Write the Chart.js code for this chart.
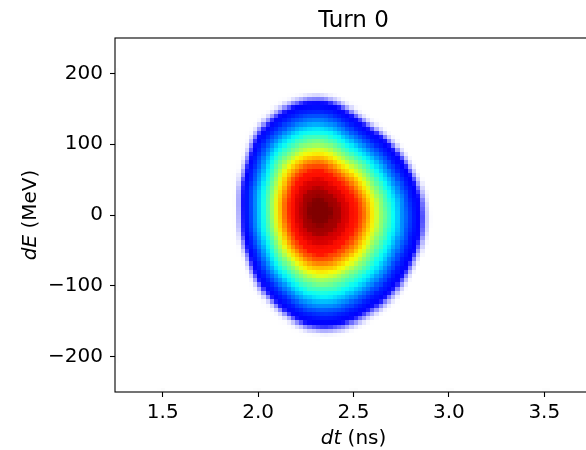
<!DOCTYPE html>
<html>
<head>
<meta charset="utf-8">
<script src="https://cdn.jsdelivr.net/npm/chart.js@4.4.0/dist/chart.umd.min.js"></script>
<style>
  html, body { margin: 0; padding: 0; background: #fff; overflow: hidden; }
  canvas { display: block; }
</style>
</head>
<body>
<canvas id="phaseSpace" width="600" height="450"></canvas>
<script>
const title = 'Turn 0';
const xTicks = [1.5, 2.0, 2.5, 3.0, 3.5];
const yTicks = [-200, -100, 0, 100, 200];
const xRange = [1.25, 3.75];
const yRange = [-250, 250];

// density contours of the bunch, outermost first.
// 12 points each, going anticlockwise from the right-hand side
const ringDt = [
  [2.893, 2.792, 2.590, 2.315, 2.031, 1.910, 1.886, 1.919, 2.043, 2.315, 2.626, 2.825],
  [2.876, 2.778, 2.582, 2.315, 2.040, 1.921, 1.898, 1.930, 2.051, 2.315, 2.617, 2.811],
  [2.860, 2.764, 2.574, 2.315, 2.048, 1.933, 1.910, 1.942, 2.059, 2.315, 2.608, 2.796],
  [2.827, 2.737, 2.559, 2.315, 2.064, 1.956, 1.935, 1.964, 2.074, 2.315, 2.590, 2.767],
  [2.799, 2.715, 2.546, 2.315, 2.077, 1.975, 1.955, 1.983, 2.087, 2.315, 2.575, 2.743],
  [2.772, 2.692, 2.532, 2.315, 2.091, 1.995, 1.976, 2.002, 2.100, 2.315, 2.561, 2.718],
  [2.744, 2.669, 2.519, 2.315, 2.104, 2.014, 1.996, 2.021, 2.113, 2.315, 2.546, 2.694],
  [2.722, 2.651, 2.509, 2.315, 2.115, 2.029, 2.012, 2.036, 2.123, 2.315, 2.534, 2.675],
  [2.695, 2.628, 2.496, 2.315, 2.129, 2.049, 2.033, 2.055, 2.136, 2.315, 2.519, 2.650],
  [2.667, 2.606, 2.483, 2.315, 2.142, 2.068, 2.053, 2.074, 2.149, 2.315, 2.504, 2.626],
  [2.640, 2.583, 2.470, 2.315, 2.156, 2.087, 2.074, 2.093, 2.162, 2.315, 2.490, 2.602],
  [2.618, 2.565, 2.459, 2.315, 2.166, 2.103, 2.090, 2.108, 2.173, 2.315, 2.478, 2.582],
  [2.596, 2.547, 2.449, 2.315, 2.177, 2.118, 2.106, 2.123, 2.183, 2.315, 2.466, 2.563],
  [2.574, 2.528, 2.438, 2.315, 2.188, 2.134, 2.123, 2.138, 2.193, 2.315, 2.454, 2.543],
  [2.552, 2.510, 2.428, 2.315, 2.199, 2.149, 2.139, 2.153, 2.204, 2.315, 2.442, 2.524],
  [2.524, 2.488, 2.415, 2.315, 2.212, 2.168, 2.160, 2.172, 2.217, 2.315, 2.427, 2.500],
  [2.480, 2.451, 2.394, 2.315, 2.234, 2.199, 2.192, 2.202, 2.237, 2.315, 2.404, 2.461],
  [2.436, 2.415, 2.373, 2.315, 2.256, 2.230, 2.225, 2.232, 2.258, 2.315, 2.380, 2.422],
  [2.387, 2.374, 2.349, 2.315, 2.280, 2.265, 2.262, 2.266, 2.281, 2.315, 2.353, 2.378]
];
const ringDE = [
  [5, 79, 133, 171, 137, 68, 5, -56, -122, -168, -140, -74],
  [5, 77, 129, 166, 133, 66, 5, -55, -118, -163, -136, -72],
  [5, 75, 126, 161, 129, 64, 5, -53, -115, -158, -131, -70],
  [5, 70, 118, 152, 122, 61, 5, -49, -107, -148, -123, -65],
  [5, 67, 112, 144, 116, 58, 5, -46, -101, -140, -116, -61],
  [5, 63, 106, 136, 109, 55, 5, -44, -95, -132, -109, -58],
  [5, 60, 100, 128, 103, 52, 5, -41, -89, -124, -103, -54],
  [5, 57, 95, 122, 98, 49, 5, -38, -84, -117, -97, -51],
  [5, 54, 89, 114, 92, 46, 5, -35, -78, -109, -90, -47],
  [5, 50, 83, 106, 85, 43, 5, -32, -72, -100, -83, -43],
  [5, 47, 77, 98, 79, 40, 5, -30, -66, -92, -76, -39],
  [5, 44, 72, 92, 74, 38, 5, -27, -61, -86, -71, -36],
  [5, 41, 67, 85, 69, 36, 5, -25, -57, -79, -65, -33],
  [5, 38, 62, 79, 64, 33, 5, -22, -52, -72, -60, -30],
  [5, 35, 57, 73, 59, 31, 5, -20, -47, -66, -54, -27],
  [5, 32, 51, 65, 53, 28, 5, -17, -41, -58, -47, -24],
  [5, 26, 42, 52, 43, 23, 5, -13, -31, -44, -36, -18],
  [5, 20, 32, 40, 33, 18, 5, -8, -22, -31, -25, -12],
  [5, 14, 21, 26, 21, 13, 5, -3, -11, -16, -13, -5]
];

// jet-like palette, faint edge to dense core
const ringColors = [
  '#dcdcff', '#8c8cff', '#0000ff', '#0018ff', '#004cff', '#008aff', '#00c7ff',
  '#05fffa', '#42ffbd', '#80ff80', '#bdff42', '#faff05', '#ffc700', '#ff8a00',
  '#ff4c00', '#ff0f00', '#d80000', '#a20000', '#800000'
];

// histogram bin size on screen, px
const BIN_PX = 4.2;
const FONT = 'DejaVu Sans';

const datasets = ringDt.map((dts, i) => {
  const pts = dts.map((x, k) => ({ x: x, y: ringDE[i][k] }));
  const n = pts.length;
  // wrap the neighbours round so the spline closes smoothly
  return {
    data: [pts[n - 1], ...pts, pts[0], pts[1]],
    backgroundColor: ringColors[i],
    borderWidth: 0,
    pointRadius: 0,
    fill: 'shape',
    tension: 0.4,
    order: ringDt.length - i
  };
});

// re-sample the plot area into square cells, like a 2d histogram
const binPlugin = {
  id: 'bins',
  afterDatasetsDraw(chart) {
    const { ctx, chartArea: a, canvas } = chart;
    const x0 = Math.round(a.left), y0 = Math.round(a.top);
    const w = Math.round(a.right) - x0, h = Math.round(a.bottom) - y0;
    const sw = Math.round(w / BIN_PX), sh = Math.round(h / BIN_PX);
    const small = document.createElement('canvas');
    small.width = sw;
    small.height = sh;
    const sctx = small.getContext('2d');
    sctx.imageSmoothingEnabled = true;
    sctx.imageSmoothingQuality = 'high';
    sctx.drawImage(canvas, x0, y0, w, h, 0, 0, sw, sh);
    ctx.save();
    ctx.clearRect(x0, y0, w, h);
    ctx.imageSmoothingEnabled = false;
    ctx.drawImage(small, 0, 0, sw, sh, x0, y0, w, h);
    ctx.restore();
  }
};

function drawMixedLabel(ctx, italicPart, plainPart, cx, y) {
  ctx.font = 'italic 20px "' + FONT + '"';
  const w1 = ctx.measureText(italicPart).width;
  ctx.font = '20px "' + FONT + '"';
  const w2 = ctx.measureText(plainPart).width;
  const x = cx - (w1 + w2) / 2;
  ctx.textAlign = 'left';
  ctx.font = 'italic 20px "' + FONT + '"';
  ctx.fillText(italicPart, x, y);
  ctx.font = '20px "' + FONT + '"';
  ctx.fillText(plainPart, x + w1, y);
}

const framePlugin = {
  id: 'frame',
  afterDraw(chart) {
    const { ctx, chartArea: a } = chart;
    ctx.save();
    ctx.strokeStyle = '#000';
    ctx.lineWidth = 1.1;
    ctx.strokeRect(a.left, a.top, a.right - a.left, a.bottom - a.top);

    ctx.fillStyle = '#000';
    ctx.textBaseline = 'alphabetic';
    const cx = (a.left + a.right) / 2;
    ctx.font = '23px "' + FONT + '"';
    ctx.textAlign = 'center';
    ctx.fillText(title, cx, 27);

    drawMixedLabel(ctx, 'dt', ' (ns)', cx, 444);

    ctx.translate(36, (a.top + a.bottom) / 2);
    ctx.rotate(-Math.PI / 2);
    drawMixedLabel(ctx, 'dE', ' (MeV)', 0, 0);
    ctx.restore();
  }
};

const tickFont = { family: FONT, size: 20 };
const minus = v => (v < 0 ? '\u2212' + Math.abs(v) : String(v));

new Chart(document.getElementById('phaseSpace'), {
  type: 'line',
  data: { datasets: datasets },
  options: {
    responsive: false,
    animation: false,
    events: [],
    layout: { padding: { top: 38, right: 8, left: 0, bottom: 0 } },
    plugins: {
      legend: { display: false },
      tooltip: { enabled: false },
      title: { display: false }
    },
    scales: {
      x: {
        type: 'linear',
        min: xRange[0],
        max: xRange[1],
        afterFit: s => { s.height = 58; },
        afterBuildTicks: s => { s.ticks = xTicks.map(v => ({ value: v })); },
        ticks: {
          callback: v => v.toFixed(1),
          font: tickFont,
          color: '#000',
          padding: 4,
          maxRotation: 0
        },
        grid: { drawOnChartArea: false, tickLength: 5, tickColor: '#000', tickWidth: 1.1 },
        border: { display: false }
      },
      y: {
        type: 'linear',
        min: yRange[0],
        max: yRange[1],
        afterFit: s => { s.width = 115; },
        afterBuildTicks: s => { s.ticks = yTicks.map(v => ({ value: v })); },
        ticks: {
          callback: v => minus(v),
          font: tickFont,
          color: '#000',
          padding: 7
        },
        grid: { drawOnChartArea: false, tickLength: 5, tickColor: '#000', tickWidth: 1.1 },
        border: { display: false }
      }
    }
  },
  plugins: [binPlugin, framePlugin]
});
</script>
</body>
</html>
